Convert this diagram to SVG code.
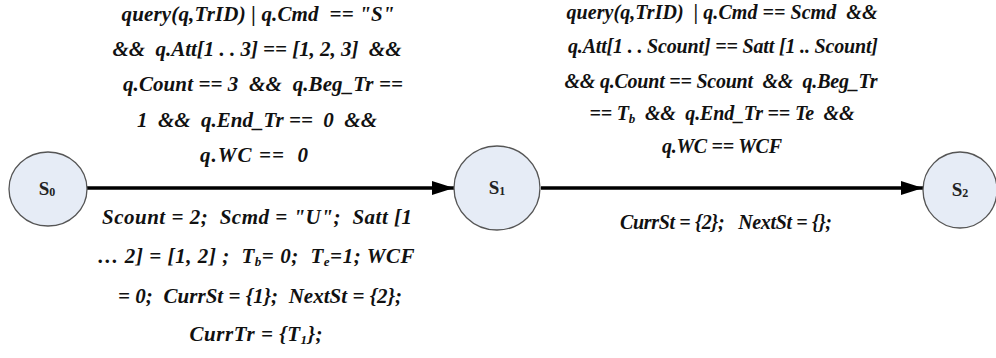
<svg xmlns="http://www.w3.org/2000/svg" width="996" height="358" viewBox="0 0 996 358">
<defs>
<style>
.lbl{font-family:"Liberation Serif","Times New Roman",serif;font-weight:bold;font-style:italic;font-size:20px;fill:#111;text-anchor:middle;white-space:pre}
.big{font-size:21px}
.st{fill:#e6ecf6;stroke:#555;stroke-width:1.3}
.nl{font-family:"Liberation Serif","Times New Roman",serif;font-weight:bold;font-size:19px;fill:#222;text-anchor:middle}
.edge{stroke:#000;stroke-width:3.5;fill:none}
.sub{font-size:13px}
</style>
<marker id="ah" markerUnits="userSpaceOnUse" markerWidth="22" markerHeight="14" refX="22" refY="7" orient="auto">
<path d="M0,0 L22,7 L0,14 Z" fill="#000"/>
</marker>
</defs>
<rect width="996" height="358" fill="#fff"/>
<g id="connectors">
<line class="edge" x1="87" y1="188" x2="454" y2="188" marker-end="url(#ah)"/>
<line class="edge" x1="541" y1="188" x2="923" y2="188" marker-end="url(#ah)"/>
</g>
<g id="S0">
<ellipse class="st" cx="48" cy="189" rx="39" ry="37"/>
<text class="nl" x="47" y="195">S<tspan font-size="12" dy="1">0</tspan></text>
</g>
<g id="S1">
<ellipse class="st" cx="497" cy="188" rx="43" ry="42"/>
<text class="nl" x="497" y="194">S<tspan font-size="12" dy="1">1</tspan></text>
</g>
<g id="S2">
<ellipse class="st" cx="960" cy="190" rx="37" ry="38"/>
<text class="nl" x="960" y="196">S<tspan font-size="12" dy="1">2</tspan></text>
</g>
<g id="label-S0-S1-guard">
<text class="lbl big" x="258" y="21" textLength="273" lengthAdjust="spacing">query(q,TrID) | q.Cmd  == "S"</text>
<text class="lbl big" x="257" y="56" textLength="289" lengthAdjust="spacing">&amp;&amp;  q.Att[1 . . 3] == [1, 2, 3]  &amp;&amp;</text>
<text class="lbl big" x="263" y="91" textLength="280" lengthAdjust="spacing">q.Count == 3  &amp;&amp;  q.Beg_Tr ==</text>
<text class="lbl big" x="257" y="127" textLength="240" lengthAdjust="spacing">1  &amp;&amp;  q.End_Tr ==  0  &amp;&amp;</text>
<text class="lbl big" x="254" y="162" textLength="108" lengthAdjust="spacing">q.WC ==  0</text>
</g>
<g id="label-S0-S1-action">
<text class="lbl big" x="257" y="224" textLength="310" lengthAdjust="spacing">Scount = 2;  Scmd = "U";  Satt [1</text>
<text class="lbl big" x="256" y="263" textLength="317" lengthAdjust="spacing">… 2] = [1, 2] ;  T<tspan class="sub" baseline-shift="-3">b</tspan>= 0;  T<tspan class="sub" baseline-shift="-3">e</tspan>=1; WCF</text>
<text class="lbl big" x="260" y="303" textLength="284" lengthAdjust="spacing">= 0;  CurrSt = {1};  NextSt = {2};</text>
<text class="lbl big" x="256" y="341" textLength="133" lengthAdjust="spacing">CurrTr = {T<tspan class="sub" baseline-shift="-3">1</tspan>};</text>
</g>
<g id="label-S1-S2-guard">
<text class="lbl" x="722" y="19" textLength="311" lengthAdjust="spacing">query(q,TrID)  | q.Cmd == Scmd  &amp;&amp;</text>
<text class="lbl" x="723" y="53" textLength="310" lengthAdjust="spacing">q.Att[1 . . Scount] == Satt [1 .. Scount]</text>
<text class="lbl" x="721" y="88" textLength="313" lengthAdjust="spacing">&amp;&amp; q.Count == Scount  &amp;&amp;  q.Beg_Tr</text>
<text class="lbl" x="722" y="120" textLength="265" lengthAdjust="spacing">== T<tspan class="sub" baseline-shift="-3">b</tspan>  &amp;&amp;  q.End_Tr == Te  &amp;&amp;</text>
<text class="lbl" x="722" y="153" textLength="120" lengthAdjust="spacing">q.WC == WCF</text>
</g>
<g id="label-S1-S2-action">
<text class="lbl" x="726" y="229" textLength="212" lengthAdjust="spacing">CurrSt = {2};   NextSt = {};</text>
</g>
</svg>
